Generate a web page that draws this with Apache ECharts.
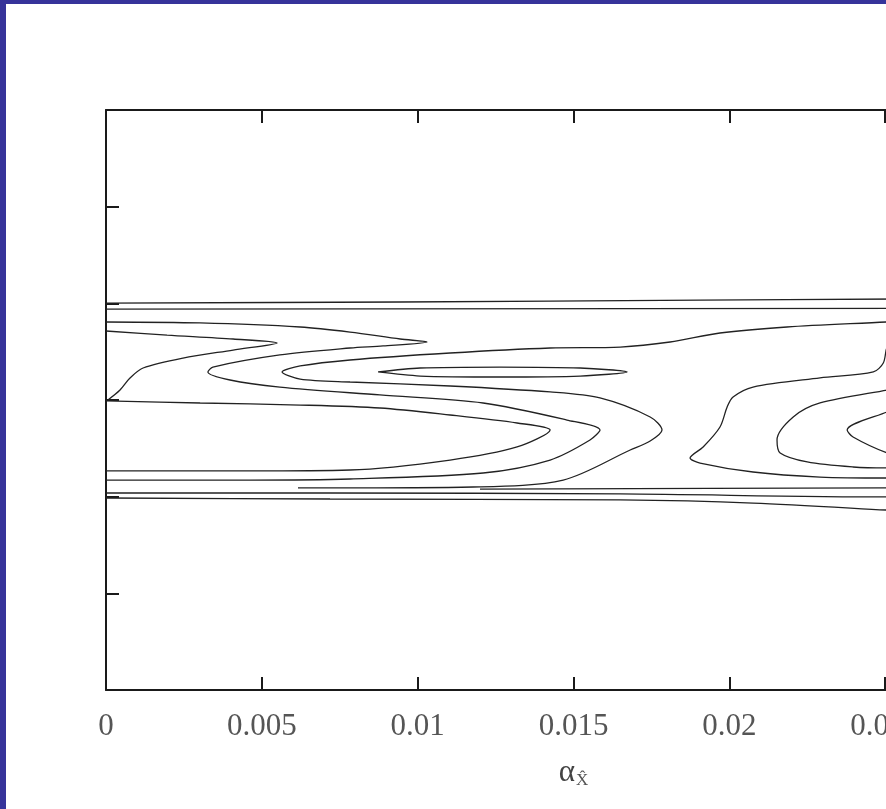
<!DOCTYPE html>
<html>
<head>
<meta charset="utf-8">
<script src="https://cdn.jsdelivr.net/npm/echarts@6/dist/echarts.min.js"></script>
<style>
html,body{margin:0;padding:0;background:#fff;overflow:hidden;width:886px;height:809px;}
#chart{width:1100px;height:809px;}
</style>
</head>
<body>
<div id="chart"></div>
<script>
// Axis ranges / ticks
const xTicks = [0, 0.005, 0.01, 0.015, 0.02, 0.025, 0.03];
const yRange = [0, 6];

// Contour lines as [x, y] pairs
const contourA = [[0,4.003],[0.00944,4.014],[0.01906,4.034],[0.02548,4.045]];
const contourB = [[0,3.941],[0.02548,3.947]];
const contourC = [[0,3.807],[0.00302,3.797],[0.00623,3.755],[0.00783,3.703],[0.00944,3.631],[0.0103,3.600],[0.00889,3.559],[0.00783,3.538],[0.00558,3.466],[0.00343,3.341],[0.00327,3.290],[0.00398,3.207],[0.00558,3.134],[0.00879,3.052],[0.0121,2.969],[0.01479,2.793],[0.01585,2.690],[0.01553,2.586],[0.01425,2.379],[0.0121,2.245],[0.00783,2.183],[0.00462,2.172],[0,2.172]];
const contourD = [[0,3.714],[0.00196,3.672],[0.00408,3.631],[0.00549,3.590],[0.00408,3.517],[0.00247,3.434],[0.00119,3.331],[0.00077,3.228],[0.00045,3.103],[0.00006,3.000]];
const contourI = [[0,2.990],[0.00302,2.969],[0.00623,2.948],[0.00879,2.917],[0.01104,2.845],[0.01319,2.762],[0.01425,2.690],[0.01319,2.514],[0.01104,2.379],[0.00783,2.276],[0.00462,2.266],[0,2.266]];
const contourL = [[0.00873,3.290],[0.01008,3.331],[0.01264,3.341],[0.01521,3.331],[0.01672,3.290],[0.01521,3.248],[0.01264,3.238],[0.01008,3.248],[0.00873,3.290]];
const contourE = [[0.02548,3.817],[0.02503,3.807],[0.02185,3.755],[0.0197,3.693],[0.0181,3.600],[0.0165,3.548],[0.01425,3.538],[0.01104,3.486],[0.00783,3.414],[0.00623,3.352],[0.00565,3.290],[0.00623,3.217],[0.00783,3.186],[0.01104,3.145],[0.01425,3.083],[0.01585,3.021],[0.01746,2.824],[0.01784,2.690],[0.01746,2.576],[0.01682,2.483],[0.01467,2.172],[0.01178,2.100],[0.00719,2.090],[0.00616,2.090]];
const contourQ = [[0.012,2.079],[0.02503,2.090],[0.02548,2.090]];
const contourR = [[0,2.038],[0.00719,2.038],[0.0165,2.028],[0.02503,1.997],[0.02548,1.997]];
const contourS = [[0,1.986],[0.00719,1.976],[0.0165,1.966],[0.02076,1.934],[0.02503,1.862],[0.02548,1.852]];
const contourF = [[0.02532,3.672],[0.02506,3.548],[0.02494,3.383],[0.02462,3.290],[0.02291,3.228],[0.02076,3.134],[0.02012,3.031],[0.01993,2.928],[0.0197,2.721],[0.01916,2.514],[0.01874,2.400],[0.01906,2.348],[0.02076,2.255],[0.02291,2.203],[0.02503,2.193],[0.02548,2.193]];
const contourG = [[0.02548,3.124],[0.02506,3.103],[0.02291,2.969],[0.02205,2.824],[0.02153,2.586],[0.02163,2.452],[0.0225,2.359],[0.02397,2.307],[0.02503,2.297],[0.02548,2.297]];
const contourH = [[0.02548,2.917],[0.02506,2.876],[0.02378,2.690],[0.02397,2.617],[0.02506,2.452],[0.02548,2.431]];

const contours = [contourA, contourB, contourC, contourD, contourI, contourL, contourE, contourQ, contourR, contourS, contourF, contourG, contourH];

const chart = echarts.init(document.getElementById('chart'), null, {renderer:'canvas'});
const axisLine = {show:true, onZero:false, lineStyle:{color:'#1a1a1a', width:2}};
const axisTick = {show:true, inside:true, length:13, lineStyle:{color:'#1a1a1a', width:2}};
const step = xTicks[1] - xTicks[0];
const xBase = {
  type:'value', min:xTicks[0], max:xTicks[xTicks.length-1], interval:step,
  axisLine, axisTick, splitLine:{show:false}
};
const yBase = {
  type:'value', min:yRange[0], max:yRange[1], interval:1,
  axisLine, axisTick, splitLine:{show:false}, axisLabel:{show:false}
};
chart.setOption({
  animation:false,
  backgroundColor:'#ffffff',
  grid:{left:106, top:110, bottom:119, right:59, containLabel:false},
  graphic:[
    {type:'rect', shape:{x:0,y:0,width:1100,height:4}, style:{fill:'#36339a'}, z:100},
    {type:'rect', shape:{x:0,y:0,width:6,height:809}, style:{fill:'#36339a'}, z:100}
  ],
  xAxis:[
    Object.assign({}, xBase, {
      position:'bottom',
      axisLabel:{show:true, margin:21, fontFamily:'Liberation Serif', fontSize:31, color:'#555'},
      name:'{a|α}{s|X̂}', nameLocation:'middle', nameGap:66,
      nameTextStyle:{rich:{
        a:{fontFamily:'Liberation Serif', fontSize:31, color:'#444'},
        s:{fontFamily:'Liberation Serif', fontSize:17, color:'#555', padding:[16,0,0,1]}
      }}
    }),
    Object.assign({}, xBase, {position:'top', axisLabel:{show:false}})
  ],
  yAxis:[
    Object.assign({}, yBase, {position:'left'}),
    Object.assign({}, yBase, {position:'right'})
  ],
  series: contours.map(c => ({
    type:'line', data:c, xAxisIndex:0, yAxisIndex:0,
    showSymbol:false, symbol:'none', smooth:0.3,
    lineStyle:{color:'#222', width:1.3}
  }))
});
</script>
</body>
</html>
